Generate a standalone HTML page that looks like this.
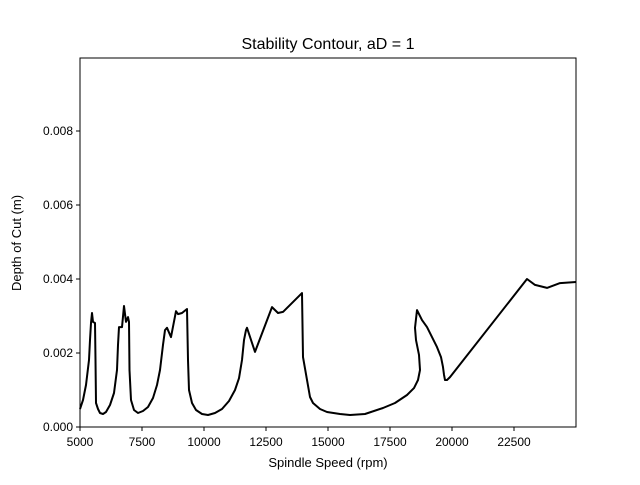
<!DOCTYPE html>
<html><head><meta charset="utf-8"><style>
body{margin:0;background:#fff;}
svg text{font-family:"Liberation Sans",sans-serif;fill:#000;}
</style></head><body>
<svg id="chart" width="640" height="480">
<rect width="640" height="480" fill="#fff"/>
<text x="328" y="49" font-size="16" text-anchor="middle">Stability Contour, aD = 1</text>
<g id="ticks"></g>
<path id="curve" fill="none" stroke="#000" stroke-width="2" stroke-linejoin="round"/>
<rect x="80" y="58" width="496" height="369" fill="none" stroke="#000" stroke-width="1"/>
<text x="328" y="467" font-size="13" text-anchor="middle">Spindle Speed (rpm)</text>
<text transform="translate(21,243) rotate(-90)" font-size="13" text-anchor="middle">Depth of Cut (m)</text>
</svg>
<script>
const rpm=[5000,5121,5242,5363,5403,5444,5484,5524,5605,5625,5645,5726,5806,5927,6048,6210,6371,6492,6532,6573,6694,6774,6855,6935,6976,6996,7056,7177,7339,7540,7742,7944,8105,8226,8347,8427,8508,8669,8871,8952,9113,9315,9355,9395,9516,9677,9919,10161,10444,10726,11008,11250,11411,11532,11613,11694,11734,12056,12742,12984,13185,13952,13992,14274,14395,14677,14960,15484,15887,16492,17218,17702,18185,18468,18629,18710,18669,18548,18508,18589,18790,18992,19194,19395,19556,19637,19677,19718,19798,19919,23024,23347,23831,24355,25000];
const depth=[0.000486,0.00073,0.001135,0.00181,0.00235,0.00281,0.00308,0.00284,0.00281,0.00181,0.000649,0.000486,0.000378,0.000351,0.000405,0.000595,0.00092,0.00154,0.00222,0.0027,0.0027,0.00327,0.00284,0.00297,0.00284,0.00154,0.00073,0.00046,0.000378,0.000432,0.000541,0.000784,0.001135,0.00154,0.00222,0.00262,0.00268,0.00243,0.00313,0.00305,0.00308,0.00319,0.00181,0.001,0.000649,0.00046,0.000351,0.000324,0.000378,0.000486,0.000703,0.001,0.00132,0.00181,0.00235,0.00262,0.00268,0.00203,0.00324,0.00308,0.00311,0.00362,0.00189,0.000811,0.000649,0.000486,0.000405,0.000351,0.000324,0.000351,0.000514,0.000649,0.000865,0.00105,0.00127,0.00154,0.00195,0.00235,0.00268,0.00316,0.00289,0.0027,0.00243,0.00216,0.00189,0.00162,0.00141,0.00127,0.00127,0.00135,0.004,0.00384,0.00376,0.00389,0.00392];
const xTicks=[5000,7500,10000,12500,15000,17500,20000,22500];
const yTicks=[0,0.002,0.004,0.006,0.008];
const yLabels=["0.000","0.002","0.004","0.006","0.008"];
const X0=80,X1=576,Y0=427,Y1=58,XMIN=5000,XMAX=25000,YMAX=369/37000;
const sx=v=>X0+(v-XMIN)/(XMAX-XMIN)*(X1-X0);
const sy=v=>Y0-v/YMAX*(Y0-Y1);
const NS="http://www.w3.org/2000/svg";
const g=document.getElementById('ticks');
xTicks.forEach(t=>{
 const l=document.createElementNS(NS,'line');
 l.setAttribute('x1',sx(t));l.setAttribute('x2',sx(t));l.setAttribute('y1',427);l.setAttribute('y2',431);l.setAttribute('stroke','#000');
 
 
 g.appendChild(l);
 const tx=document.createElementNS(NS,'text');
 tx.setAttribute('x',sx(t));tx.setAttribute('y',446);tx.setAttribute('font-size','12');tx.setAttribute('text-anchor','middle');
 tx.textContent=t;
 
 
 g.appendChild(tx);
});
yTicks.forEach((t,i)=>{
 const l=document.createElementNS(NS,'line');
 l.setAttribute('x1',76);l.setAttribute('x2',80);l.setAttribute('y1',sy(t));l.setAttribute('y2',sy(t));l.setAttribute('stroke','#000');
 
 
 g.appendChild(l);
 const tx=document.createElementNS(NS,'text');
 tx.setAttribute('x',73);tx.setAttribute('y',sy(t)+4);tx.setAttribute('font-size','12');tx.setAttribute('text-anchor','end');
 tx.textContent=yLabels[i];
 
 
 g.appendChild(tx);
});
let d='';
rpm.forEach((r,i)=>{d+=(i?'L':'M')+sx(r).toFixed(1)+','+sy(depth[i]).toFixed(1);});
document.getElementById('curve').setAttribute('d',d);
</script>
</body></html>
